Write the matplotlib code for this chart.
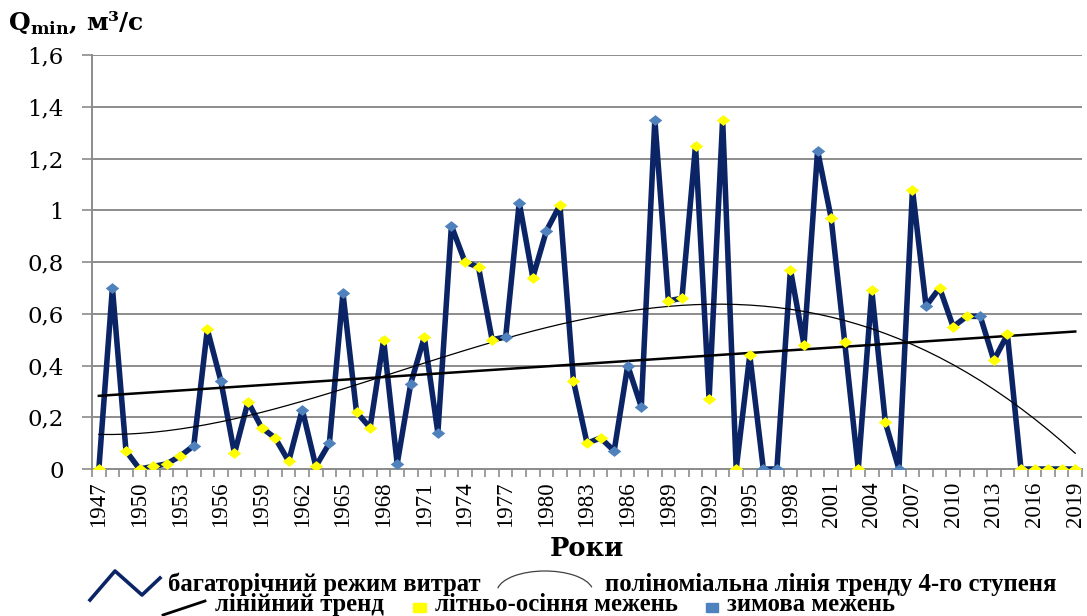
import numpy as np
import matplotlib.pyplot as plt
from matplotlib.lines import Line2D
from matplotlib.patches import Rectangle, Arc

plt.rcParams['font.family'] = ['Liberation Serif', 'DejaVu Serif']
plt.rcParams['mathtext.fontset'] = 'custom'
plt.rcParams['mathtext.rm'] = 'DejaVu Serif'
plt.rcParams['mathtext.bf'] = 'DejaVu Serif:bold'

years = list(range(1947, 2020))
q_min = [0.00, 0.70, 0.07, 0.00, 0.01, 0.02, 0.05, 0.09, 0.54, 0.34,
         0.06, 0.26, 0.16, 0.12, 0.03, 0.23, 0.01, 0.10, 0.68, 0.22,
         0.16, 0.50, 0.02, 0.33, 0.51, 0.14, 0.94, 0.80, 0.78, 0.50,
         0.51, 1.03, 0.74, 0.92, 1.02, 0.34, 0.10, 0.12, 0.07, 0.40,
         0.24, 1.35, 0.65, 0.66, 1.25, 0.27, 1.35, 0.00, 0.44, 0.00,
         0.00, 0.77, 0.48, 1.23, 0.97, 0.49, 0.00, 0.69, 0.18, 0.00,
         1.08, 0.63, 0.70, 0.55, 0.59, 0.59, 0.42, 0.52, 0.00, 0.00,
         0.00, 0.00, 0.00]
# S - літньо-осіння межень, W - зимова межень
season = ("SWSSSSSWSW" "SSSSSWSWWS" "SSWWSWWSSS" "WWSWSSSSWW"
          "WWSSSSSSSW" "WSSWSSSSSW" "SWSSSWSSSS" "SSS")
y_ticks = [0, 0.2, 0.4, 0.6, 0.8, 1.0, 1.2, 1.4, 1.6]
y_labels = ["0", "0,2", "0,4", "0,6", "0,8", "1", "1,2", "1,4", "1,6"]
x_label_years = years[::3]

navy = "#0b2466"
yellow = "#ffff00"
blue = "#4f81bd"
grid = "#8c8c8c"

x = np.array(years, dtype=float)
q = np.array(q_min)

fig = plt.figure(figsize=(10.87, 6.16), dpi=100)
ax = fig.add_axes([0.0847, 0.2386, 0.9107, 0.6721])

ax.plot(x, q, color=navy, lw=4.0, zorder=3, solid_joinstyle='round')

# trends
lin = np.polyfit(x, q, 1)
ax.plot(x, np.polyval(lin, x), color="black", lw=1.8, zorder=4)
poly = np.polynomial.Polynomial.fit(x, q, 4)
ax.plot(x, poly(x), color="black", lw=0.9, zorder=4)

diamond = [(-1, 0), (0, 0.8), (1, 0), (0, -0.8), (-1, 0)]
summer = np.array([s == "S" for s in season])
ax.scatter(x[summer], q[summer], marker=diamond, s=95, color=yellow, lw=0, zorder=5)
ax.scatter(x[~summer], q[~summer], marker=diamond, s=95, color=blue, lw=0, zorder=5)

ax.set_xlim(1946.5, 2019.5)
ax.set_ylim(0, 1.6)
ax.set_yticks(y_ticks)
ax.set_yticklabels(y_labels, fontsize=16.5, family='DejaVu Serif')
ax.set_xticks(x_label_years)
ax.set_xticklabels([str(v) for v in x_label_years], rotation=90, fontsize=16.5)
ax.set_xticks(np.arange(1946.5, 2020, 1), minor=True)
ax.tick_params(axis='x', which='major', length=0, pad=9)
ax.tick_params(axis='x', which='minor', length=5.5, color=grid, width=1.2)
ax.tick_params(axis='y', length=7.5, color=grid, width=1.2, pad=13)
ax.grid(axis='y', color=grid, lw=1.4)
ax.set_axisbelow(True)
for side in ['top', 'right']:
    ax.spines[side].set_visible(False)
for side in ['left', 'bottom']:
    ax.spines[side].set_color(grid)
    ax.spines[side].set_linewidth(1.4)

ax.set_xlabel("Роки", fontsize=18.5, fontweight='bold', family='DejaVu Serif',
              labelpad=6)
fig.text(0.007, 0.95, r'$\mathbf{Q}_{\mathbf{min}}$' + ", м³/с",
         fontsize=18, fontweight='bold', family='DejaVu Serif')

# legend (drawn by hand to match the Word text under the chart)
W, H = 1087.0, 616.0
def fx(px):
    return px / W
def fy(py):
    return 1 - py / H

leg_font = dict(fontsize=17.8, fontweight='bold', va='baseline')
fig.add_artist(Line2D([fx(90), fx(115), fx(142), fx(160)],
                      [fy(600), fy(571), fy(595), fy(578)],
                      color=navy, lw=2.6, transform=fig.transFigure))
fig.text(fx(168), fy(591), "багаторічний режим витрат", **leg_font)
fig.add_artist(Arc((fx(545), fy(592)), fx(96), 2 * (fy(571) - fy(592)),
                   theta1=10, theta2=172, color="#404040", lw=0.9,
                   transform=fig.transFigure))
fig.text(fx(605), fy(591), "поліноміальна лінія тренду 4-го ступеня", **leg_font)
fig.add_artist(Line2D([fx(163), fx(205)], [fy(615), fy(601)],
                      color="black", lw=2.0, transform=fig.transFigure))
fig.text(fx(215), fy(611), "лінійний тренд", **leg_font)
fig.add_artist(Rectangle((fx(413), fy(612)), fx(13), fy(603) - fy(612),
                         color=yellow, transform=fig.transFigure))
fig.text(fx(435), fy(611), "літньо-осіння межень", **leg_font)
fig.add_artist(Rectangle((fx(706), fy(612)), fx(12), fy(603) - fy(612),
                         color=blue, transform=fig.transFigure))
fig.text(fx(727), fy(611), "зимова межень", **leg_font)

fig.savefig("out.png", dpi=100)
